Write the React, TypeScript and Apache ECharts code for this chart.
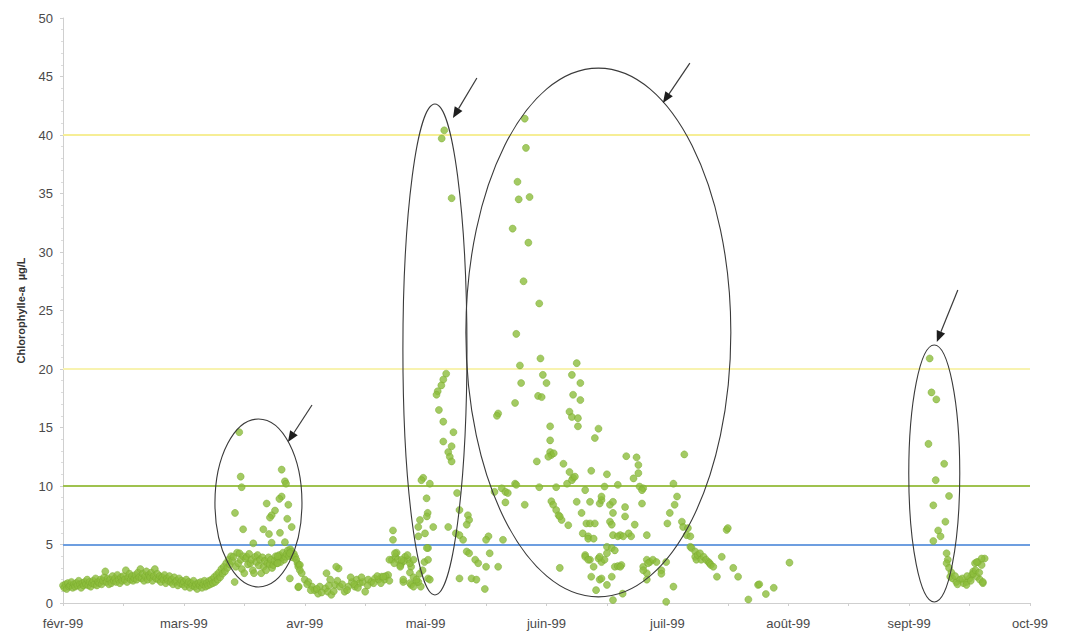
import React, { useEffect, useRef } from "react";
import * as echarts from "echarts";

// x values are month positions on the axis: 0 = févr-99, 1 = mars-99, ... 8 = oct-99
const monthLabels = ["févr-99", "mars-99", "avr-99", "mai-99", "juin-99", "juil-99", "août-99", "sept-99", "oct-99"];

const thresholdValues = [40, 20, 10, 5];
const thresholdColors = ["#f6ee96", "#f8f3b0", "#9fc24f", "#6d9ee0"];

const febMarBand: number[][] = [
  [0.00,1.5],[0.01,1.3],[0.02,1.6],[0.03,1.2],[0.04,1.7],[0.05,1.4],[0.06,1.5],[0.07,1.8],[0.08,1.3],[0.09,1.6],
  [0.10,1.4],[0.11,1.7],[0.12,1.5],[0.13,1.9],[0.14,1.6],[0.15,1.3],[0.16,1.7],[0.17,1.5],[0.18,1.8],[0.19,1.6],
  [0.20,2.0],[0.21,1.5],[0.22,1.8],[0.23,1.4],[0.24,1.7],[0.25,1.9],[0.26,1.6],[0.27,2.1],[0.28,1.5],[0.29,1.8],
  [0.30,1.7],[0.31,2.0],[0.32,1.6],[0.33,1.9],[0.34,2.2],[0.35,2.7],[0.36,1.8],[0.37,2.1],[0.38,1.6],[0.39,2.0],
  [0.40,1.7],[0.41,2.3],[0.42,1.9],[0.43,2.1],[0.44,1.8],[0.45,2.4],[0.46,2.0],[0.47,1.7],[0.48,2.2],[0.49,1.9],
  [0.50,2.3],[0.51,2.0],[0.52,2.8],[0.53,1.8],[0.54,2.2],[0.55,2.5],[0.56,2.0],[0.57,2.3],[0.58,1.9],[0.59,2.1],
  [0.60,2.4],[0.61,2.0],[0.62,2.6],[0.63,2.2],[0.64,2.9],[0.65,2.1],[0.66,2.5],[0.67,1.9],[0.68,2.3],[0.69,2.7],
  [0.70,2.0],[0.71,2.4],[0.72,2.2],[0.73,2.6],[0.74,1.9],[0.75,2.3],[0.76,2.9],[0.77,2.1],[0.78,2.5],[0.79,2.0],
  [0.80,2.3],[0.81,1.8],[0.82,2.2],[0.83,2.0],[0.84,2.4],[0.85,1.7],[0.86,2.1],[0.87,1.9],[0.88,2.3],[0.89,1.8],
  [0.90,2.0],[0.91,1.6],[0.92,2.2],[0.93,1.8],[0.94,1.9],[0.95,1.5],[0.96,2.1],[0.97,1.7],[0.98,1.9],[0.99,1.6],
  [1.00,1.8],[1.01,1.4],[1.02,2.0],[1.03,1.6],[1.04,1.8],[1.05,1.3],[1.06,1.7],[1.07,1.5],[1.08,1.9],[1.09,1.4],
  [1.10,1.6],[1.11,1.2],[1.12,1.7],[1.13,1.5],[1.14,1.8],[1.15,1.3],[1.16,1.6],[1.17,1.9],[1.18,1.4],[1.19,1.7],
  [1.20,1.5],[1.21,1.9],[1.22,1.6],[1.23,2.0],[1.24,1.7],[1.25,2.2],[1.26,1.8],[1.27,2.4],[1.28,2.0],[1.29,2.6],
  [1.30,2.2],[1.31,2.9],[1.32,2.5],[1.33,3.1],[1.34,2.7],[1.35,3.4],[1.36,3.0],[1.37,3.7],[1.38,3.3],[1.39,4.0],
];

const marchBand: number[][] = [
  [1.40,3.6],[1.41,3.95],[1.42,1.8],[1.43,3.1],[1.44,4.3],[1.45,3.4],[1.46,4.25],[1.47,3.7],[1.48,2.9],[1.49,4.0],
  [1.50,2.55],[1.51,3.8],[1.52,3.95],[1.53,3.3],[1.54,4.2],[1.55,3.4],[1.56,3.7],[1.57,2.8],[1.58,2.55],[1.59,3.95],
  [1.60,3.5],[1.61,4.1],[1.62,3.2],[1.63,3.7],[1.64,2.55],[1.65,3.9],[1.66,3.1],[1.67,3.6],[1.68,2.8],[1.69,3.4],
  [1.70,3.9],[1.71,3.3],[1.72,3.7],[1.73,3.0],[1.74,3.25],[1.75,3.6],[1.76,4.0],[1.77,3.4],[1.78,3.8],[1.79,4.1],
  [1.80,3.5],[1.81,3.9],[1.82,4.3],[1.83,3.7],[1.84,3.95],[1.85,4.2],[1.86,4.5],[1.87,4.0],[1.88,4.6],[1.89,4.4],
  [1.90,3.9],[1.91,4.2],[1.92,3.95],[1.93,3.7],[1.94,3.4],[1.95,3.25],
];

const marchScatter: number[][] = [
  [1.458,14.6],[1.47,10.8],[1.478,9.9],[1.423,7.7],[1.49,6.3],[1.574,5.1],[1.809,11.4],[1.836,10.4],[1.845,10.2],
  [1.809,9.1],[1.79,8.9],[1.864,8.4],[1.685,8.5],[1.754,7.9],[1.726,7.5],[1.712,7.3],[1.855,7.2],[1.657,6.3],
  [1.892,6.5],[1.704,5.9],[1.795,6.0],[1.726,5.15],[1.836,5.2],[1.776,4.0],[1.776,3.4],[1.877,4.25],[1.877,2.1],
  [1.946,1.35],[1.946,3.1],
];

const aprilTrough: number[][] = [
  [1.96,3.25],[1.96,2.8],[1.975,2.55],[2.0,2.0],[1.95,1.4],[2.03,1.8],[2.06,1.4],[2.08,1.1],[2.11,0.8],[2.125,1.4],
  [2.17,1.25],[2.19,0.97],[2.22,0.7],[2.21,2.0],[2.25,1.55],[2.28,2.95],[2.29,1.4],[2.33,0.97],[2.36,1.4],[2.39,1.8],
  [2.415,1.4],[2.43,2.0],[2.455,1.7],[2.48,1.8],[2.5,0.97],[2.525,2.0],[2.55,1.8],[2.58,2.1],[2.61,2.0],[2.635,2.25],
  [2.66,2.0],[2.69,2.4],[2.72,3.7],[2.75,3.95],[2.77,3.7],[2.8,3.4],[2.83,3.95],[2.855,3.7],[2.88,3.1],[2.815,1.8],
  [2.88,1.55],[2.925,1.8],[2.73,6.2],[2.73,5.4],[2.18,2.55],[2.26,3.1],
  [2.02,1.6],[2.05,1.1],[2.1,1.2],[2.14,0.9],[2.2,1.5],[2.24,1.0],[2.27,1.9],[2.31,1.6],[2.35,1.1],[2.38,2.2],
  [2.41,1.6],[2.44,1.3],[2.47,2.2],[2.52,1.5],[2.57,1.7],[2.6,2.3],[2.63,1.7],[2.67,2.3],[2.7,1.9],[2.74,3.4],
  [2.76,4.3],[2.79,3.2],[2.82,3.6],[2.85,4.1],[2.87,2.6],[2.9,2.2],[2.95,2.5],[2.96,1.4],
  [2.746,4.25],[2.8,3.7],[2.7,3.7],[2.79,3.1],[2.87,3.4],[2.9,3.7],[2.65,2.25],[2.815,2.0],[2.87,1.7],[2.9,1.4],
];

const mayPeak: number[][] = [
  [2.98,10.7],[3.035,10.2],[3.008,8.95],[3.017,7.7],[2.953,7.1],[2.939,6.5],[3.063,6.5],[2.94,5.7],[3.02,4.7],
  [2.99,3.5],[2.975,2.8],[3.02,2.1],[2.94,1.8],[2.925,2.0],[3.035,2.0],[3.02,3.7],[3.01,4.7],[2.995,5.95],
  [3.01,7.4],[2.965,10.5],[3.187,6.5],
  [3.17,19.6],[3.146,19.1],[3.13,18.6],[3.1,18.1],[3.09,17.8],[3.11,16.5],[3.146,15.5],[3.23,14.6],[3.146,13.8],
  [3.215,13.4],[3.187,12.9],[3.2,12.5],[3.215,12.1],
  [3.154,40.4],[3.133,39.7],[3.215,34.6],
  [3.26,9.4],[3.35,7.5],[3.36,7.1],[3.34,6.7],[3.28,7.95],[3.25,5.95],[3.28,5.8],[3.31,5.4],[3.34,4.4],[3.36,4.25],
  [3.41,3.7],[3.435,3.4],[3.28,2.1],[3.38,2.1],[3.42,2.0],[3.49,1.2],[3.5,3.1],[3.53,4.25],[3.52,5.7],[3.5,5.4],
  [3.6,3.1],[3.64,5.4],
];

const juneJuly: number[][] = [
  [3.82,41.4],[3.83,38.9],[3.76,36.0],[3.77,34.5],[3.86,34.7],[3.72,32.0],[3.85,30.8],[3.81,27.5],[3.94,25.6],
  [3.75,23.0],[3.95,20.9],[3.78,20.3],[3.97,19.5],[3.79,18.8],[4.0,18.8],[3.93,17.7],[3.96,17.6],
  [3.6,16.2],[3.59,16.0],[3.74,17.1],
  [3.57,9.5],[3.63,9.8],[3.66,9.5],[3.68,9.4],[3.74,10.2],[3.66,8.6],
  [4.25,20.5],[4.21,19.5],[4.28,18.8],[4.22,17.8],[4.28,17.35],[4.19,16.35],[4.21,15.9],[4.26,15.8],[4.26,15.1],
  [4.43,14.9],[4.4,14.1],
  [4.03,15.1],[4.03,13.9],[4.03,12.9],[4.04,12.65],[4.015,12.5],[4.06,12.8],
  [3.92,12.1],[4.14,11.9],[4.19,11.2],[4.22,10.7],[4.17,10.2],[4.21,10.5],[4.235,10.8],
  [4.08,9.9],[3.94,9.9],[3.75,10.1],[3.82,8.4],[4.04,8.7],[4.055,8.4],[4.08,7.95],[4.1,7.5],[4.125,7.1],[4.18,6.65],
  [4.11,7.4],
  [4.25,8.65],[4.29,7.7],[4.33,6.8],[4.30,5.95],[4.345,5.7],[4.345,5.5],[4.39,5.5],[4.36,6.8],[4.40,6.8],[4.525,6.95],
  [4.54,6.7],[4.65,7.4],[4.73,6.7],
  [4.36,8.65],[4.44,8.5],[4.455,8.8],[4.525,8.4],[4.55,8.65],[4.65,8.2],[4.79,8.5],
  [4.32,9.65],[4.48,9.95],[4.59,10.1],[4.77,9.95],[4.8,9.8],[5.05,10.2],
  [4.37,11.3],[4.5,11.0],[4.66,12.55],[4.745,12.45],[4.76,11.8],[4.76,11.1],[4.72,10.65],[4.79,9.65],
  [4.455,9.1],[4.55,7.7],
  [4.61,5.8],[4.68,5.95],[4.55,5.8],[4.5,4.8],[4.54,4.7],[4.565,4.5],[4.59,5.7],[4.635,5.7],[4.70,5.7],[4.83,5.8],
  [4.5,4.25],
  [4.32,4.1],[4.36,3.7],[4.39,3.1],[4.37,2.25],[4.44,2.0],[4.41,1.1],[4.55,0.25],[4.11,3.0],
  [4.32,3.95],[4.345,3.7],[4.43,3.8],[4.455,3.5],[4.48,3.7],[4.565,3.1],[4.59,3.15],[4.62,3.25],
  [4.455,2.1],[4.5,1.55],[4.63,0.8],
  [4.83,3.7],[4.855,3.5],[4.88,3.7],[4.8,3.1],[4.83,2.55],[4.95,2.8],[4.99,3.5],[4.91,3.5],[4.95,2.5],[4.84,3.4],
  [4.8,2.8],[4.83,2.0],
  [4.99,0.1],[5.05,1.4],
  [5.0,6.8],[5.02,7.7],[5.06,8.4],[5.08,9.1],[5.12,6.95],[5.14,12.7],[5.16,5.8],[5.19,4.8],[5.13,6.5],
  [4.54,2.25],[4.61,3.1],[4.44,3.95],
];

const julyAugust: number[][] = [
  [5.17,6.4],[5.19,5.7],[5.2,4.7],[5.23,4.4],[5.23,3.95],[5.24,3.7],[5.25,4.1],[5.27,4.25],[5.28,3.7],[5.3,3.95],
  [5.32,3.7],[5.34,3.5],[5.35,3.4],[5.36,3.25],[5.38,3.1],[5.41,2.25],[5.45,3.95],[5.49,6.25],[5.5,6.4],
  [5.545,3.0],[5.585,2.25],[5.67,0.3],[5.75,1.55],[5.76,1.6],[5.815,0.77],[5.88,1.3],[6.01,3.45],
];

const september: number[][] = [
  [7.17,20.9],[7.185,18.0],[7.225,17.4],[7.16,13.6],[7.29,11.9],[7.22,10.5],[7.33,9.15],[7.2,8.35],[7.3,6.95],
  [7.24,6.2],[7.26,5.7],[7.2,5.3],[7.31,4.25],[7.32,3.7],[7.31,3.4],[7.34,2.25],[7.36,2.1],[7.39,1.8],[7.42,2.0],
  [7.45,1.7],[7.475,1.8],[7.5,2.1],[7.52,2.4],[7.53,2.7],[7.56,2.25],[7.585,2.0],[7.61,1.7],[7.545,3.4],[7.57,3.5],
  [7.6,3.25],[7.625,3.8],[7.475,1.55],[7.53,2.5],[7.56,3.5],[7.6,3.8],[7.61,1.8],[7.35,2.6],[7.38,2.3],[7.4,1.6],
  [7.44,2.1],[7.48,2.3],[7.51,1.9],[7.55,2.8],[7.58,2.6],[7.33,3.0],
];

// annotations in data units: ellipse centre (month, value) and radii (months, value units)
const ellipses = [
  { c: [1.617, 8.55], rx: 0.36, ry: 7.18 },
  { c: [3.077, 21.67], rx: 0.265, ry: 20.98 },
  { c: [4.429, 23.12], rx: 1.096, ry: 22.6 },
  { c: [7.208, 11.07], rx: 0.211, ry: 10.98 },
];
const arrows = [
  { from: [2.06, 16.92], to: [1.861, 13.76] },
  { from: [3.424, 44.87], to: [3.226, 41.45] },
  { from: [5.186, 46.15], to: [4.963, 42.74] },
  { from: [7.403, 26.75], to: [7.229, 22.31] },
];

export default function App() {
  const ref = useRef<HTMLDivElement>(null);
  useEffect(() => {
    if (!ref.current) return;
    const chart = echarts.init(ref.current, null, { renderer: "svg" });
    const allPoints = [
      ...febMarBand, ...marchBand, ...marchScatter, ...aprilTrough,
      ...mayPeak, ...juneJuly, ...julyAugust, ...september,
    ];
    const font = "'Liberation Sans', Arial, sans-serif";
    chart.setOption({
      animation: false,
      backgroundColor: "#ffffff",
      grid: { left: 63, right: 35, top: 18, bottom: 31, containLabel: false },
      xAxis: {
        type: "value",
        min: 0,
        max: 8,
        interval: 0.5,
        axisLine: { show: true, lineStyle: { color: "#cfcfcf", width: 1 } },
        axisTick: { show: true, length: 3, lineStyle: { color: "#cfcfcf" } },
        splitLine: { show: false },
        axisLabel: {
          color: "#4a4a4a",
          fontSize: 13,
          fontFamily: font,
          margin: 14,
          formatter: (v: number) => (Math.abs(v - Math.round(v)) < 1e-6 ? monthLabels[Math.round(v)] : ""),
        },
      },
      yAxis: {
        type: "value",
        min: 0,
        max: 50,
        interval: 5,
        name: "Chlorophylle-a  µg/L",
        nameLocation: "middle",
        nameGap: 37,
        nameTextStyle: { color: "#333", fontSize: 11, fontWeight: "bold", fontFamily: font },
        axisLine: { show: true, lineStyle: { color: "#cfcfcf", width: 1 } },
        axisTick: { show: true, length: 3, lineStyle: { color: "#cfcfcf" } },
        minorTick: { show: true, splitNumber: 5, length: 2, lineStyle: { color: "#dcdcdc" } },
        splitLine: { show: false },
        axisLabel: { color: "#4a4a4a", fontSize: 13, fontFamily: font, margin: 10 },
      },
      series: [
        {
          type: "scatter",
          data: allPoints,
          symbol: "circle",
          symbolSize: 7,
          itemStyle: { color: "#8cbd3c", borderColor: "#7aab2e", borderWidth: 0.6 },
          z: 3,
          markLine: {
            silent: true,
            symbol: "none",
            label: { show: false },
            z: 2,
            data: thresholdValues.map((v, i) => ({
              yAxis: v,
              lineStyle: { color: thresholdColors[i], width: 2, type: "solid" },
            })),
          },
        },
      ],
    });

    const toPx = (p: number[]) => chart.convertToPixel({ gridIndex: 0 }, p) as number[];
    const graphics: any[] = [];
    ellipses.forEach((e) => {
      const c = toPx(e.c);
      const ex = toPx([e.c[0] + e.rx, e.c[1]]);
      const ey = toPx([e.c[0], e.c[1] + e.ry]);
      graphics.push({
        type: "ellipse",
        silent: true,
        z: 10,
        shape: { cx: c[0], cy: c[1], rx: Math.abs(ex[0] - c[0]), ry: Math.abs(c[1] - ey[1]) },
        style: { fill: "transparent", stroke: "#3a3a3a", lineWidth: 1.1 },
      });
    });
    arrows.forEach((a) => {
      const s = toPx(a.from);
      const t = toPx(a.to);
      const dx = t[0] - s[0];
      const dy = t[1] - s[1];
      const len = Math.sqrt(dx * dx + dy * dy);
      const ux = dx / len;
      const uy = dy / len;
      const headLen = 11;
      const headW = 4.5;
      const bx = t[0] - ux * headLen;
      const by = t[1] - uy * headLen;
      graphics.push({
        type: "line",
        silent: true,
        z: 10,
        shape: { x1: s[0], y1: s[1], x2: bx, y2: by },
        style: { stroke: "#3a3a3a", lineWidth: 1.2 },
      });
      graphics.push({
        type: "polygon",
        silent: true,
        z: 10,
        shape: {
          points: [
            [t[0], t[1]],
            [bx - uy * headW, by + ux * headW],
            [bx + uy * headW, by - ux * headW],
          ],
        },
        style: { fill: "#1e1e1e" },
      });
    });
    chart.setOption({ graphic: graphics });

    return () => chart.dispose();
  }, []);
  return (
    <div
      ref={ref}
      style={{ position: "fixed", left: 0, top: 0, width: 1065, height: 634, background: "#fff" }}
    />
  );
}
